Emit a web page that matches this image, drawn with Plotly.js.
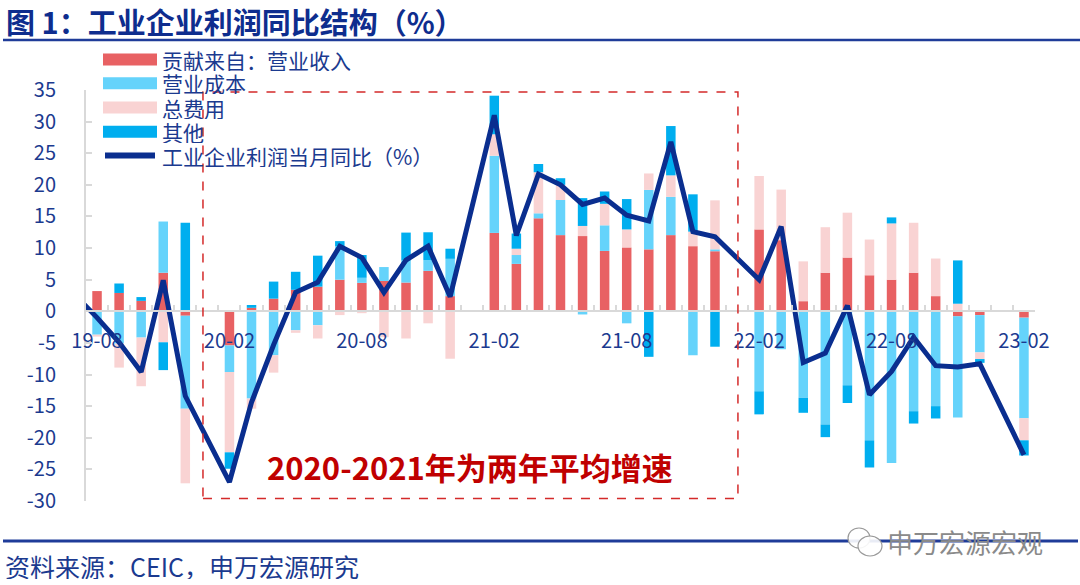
<!DOCTYPE html>
<html><head><meta charset="utf-8">
<script src="https://cdn.plot.ly/plotly-3.0.1.min.js"></script>
<style>html,body{margin:0;padding:0;background:#fff;}#chart{width:1080px;height:585px;}</style>
</head><body><div id="chart"></div>
<script>
// ---- data ----
const months = ['19-07','19-08','19-09','19-10','19-11','19-12',
  '20-01','20-02','20-03','20-04','20-05','20-06','20-07','20-08','20-09','20-10','20-11','20-12',
  '21-01','21-02','21-03','21-04','21-05','21-06','21-07','21-08','21-09','21-10','21-11','21-12',
  '22-01','22-02','22-03','22-04','22-05','22-06','22-07','22-08','22-09','22-10','22-11','22-12',
  '23-01','23-02'];
const tickLabels = ['19-08','20-02','20-08','21-02','21-08','22-02','22-08','23-02'];
const yTicks = [-30,-25,-20,-15,-10,-5,0,5,10,15,20,25,30,35];
const seriesNames = ['贡献来自：营业收入','营业成本','总费用','其他','工业企业利润当月同比（%）'];

const revenue = [null,3.2,2.9,1.65,6.1,-0.7,
  null,-5.4,0.55,2.0,3.4,3.9,5.0,4.5,4.8,4.55,6.4,2.4,
  null,12.4,7.5,14.7,12.05,11.9,9.55,10.1,9.8,12.05,10.3,9.5,
  null,12.95,11.25,1.6,6.1,8.5,5.7,5.0,6.1,2.4,-0.8,-0.6,
  null,-1.0];
const cost = [null,-3.7,-5.1,-4.15,8.1,-14.7,
  null,-4.2,-13.8,-6.95,-3.0,-2.2,5.3,0.8,2.2,3.5,1.7,5.9,
  null,12.2,1.4,0.8,5.55,-0.5,4.05,-1.9,9.4,6.05,-6.95,0.3,
  null,-12.65,-6.0,-13.65,-17.9,-11.7,-20.4,-24.0,-15.8,-15.0,-16.0,-5.9,
  null,-15.9];
const expenses = [null,-0.3,-3.8,-7.7,-4.9,-11.8,
  null,-12.7,-1.6,-2.75,-0.4,-2.1,-0.6,-0.3,-4.1,-4.3,-1.9,-7.5,
  null,3.4,1.0,6.5,2.4,1.6,3.4,2.85,2.6,3.4,2.3,7.75,
  null,8.45,8.0,6.3,7.2,7.1,5.65,8.9,7.9,5.95,1.2,-1.05,
  null,-3.5];
const other = [null,0,1.5,0.6,-4.4,14.0,
  null,-2.6,0.45,2.7,2.85,4.9,0.8,3.6,0,4.4,4.4,1.6,
  null,6.1,2.4,1.3,1.05,4.4,1.95,4.8,-7.2,7.8,5.9,-5.6,
  null,-3.65,0,-2.4,-2.0,-2.8,-4.3,0.95,-1.95,-1.95,6.85,-0.6,
  null,-2.4];
const profit = [2.6,-1.0,-4.9,-9.6,4.9,-13.4,
  null,-27.0,-14.4,-5.3,3.0,4.6,10.3,8.5,3.0,8.1,10.3,2.3,
  null,31.0,12.0,21.7,20.0,16.9,17.9,15.2,14.3,26.8,12.6,11.8,
  null,5.0,13.4,-8.1,-6.6,0.9,-13.2,-9.5,-4.1,-8.6,-8.8,-8.3,
  null,-22.7];

// ---- styling ----
const colors = ['#E86163','#65D3FB','#F9D3D3','#00AEEF','#0A2E8F'];
const textBlue = '#1B3A8F';
const FONT = '"Noto Sans CJK SC","Noto Sans",sans-serif';
const W = 1080, H = 585, M = {l:86, r:45, t:90, b:84};
const px = p => (p - M.l) / (W - M.l - M.r);
const py = p => 1 - (p - M.t) / (H - M.t - M.b);

const xIdx = months.map((m, i) => i);
const barSeries = [revenue, cost, expenses, other];
const traces = barSeries.map((vals, k) => ({
  type: 'bar', x: xIdx, y: vals, name: seriesNames[k], width: 0.43,
  marker: {color: colors[k], line: {width: 0}}, showlegend: false, hoverinfo: 'x+y+name'
}));
traces.push({
  type: 'scatter', mode: 'lines', x: xIdx, y: profit, name: seriesNames[4],
  connectgaps: true, line: {color: colors[4], width: 5}, showlegend: false
});

const boundaries = [];
for (let i = 1; i < months.length - 1; i++) boundaries.push(i + 0.5);

const shapes = [
  // title underline and footer line
  {type:'line', xref:'paper', yref:'paper', x0:px(3), x1:px(1080), y0:py(40), y1:py(40), line:{color:'#1F3C99', width:2.5}},
  {type:'line', xref:'paper', yref:'paper', x0:px(3), x1:px(1078), y0:py(541), y1:py(541), line:{color:'#1F3C99', width:3}},
  // dashed highlight box
  {type:'rect', xref:'x', yref:'y', x0:5.8, x1:30.04, y0:-29.6, y1:34.7, line:{color:'#D42A2A', width:1.5, dash:'dash'}},
  // wechat icon (watermark)
  {type:'circle', xref:'paper', yref:'paper', x0:px(848), x1:px(870), y0:py(548), y1:py(528), line:{color:'#9a9a9a', width:1.2}, fillcolor:'rgba(255,255,255,0.9)'},
  {type:'circle', xref:'paper', yref:'paper', x0:px(858), x1:px(882), y0:py(556), y1:py(536), line:{color:'#9a9a9a', width:1.2}, fillcolor:'rgba(255,255,255,0.9)'}
];
const legendRows = [59.5, 83.3, 107.5, 131.7, 155.5];
const annotations = [];
// title as annotation with a compact box
annotations.push({xref:'paper', yref:'paper', x:px(5), y:py(21), xanchor:'left', yanchor:'middle', showarrow:false,
  borderpad: 0, height: 32, valign: 'middle', text:'<b>图 1：工业企业利润同比结构（%）</b>',
  font:{family:FONT, size:29, color:'#0E2D8E'}});
for (let k = 0; k < 5; k++) {
  const yc = legendRows[k];
  if (k < 4) {
    shapes.push({type:'rect', xref:'paper', yref:'paper', x0:px(103), x1:px(157), y0:py(yc+6), y1:py(yc-6), line:{width:0}, fillcolor:colors[k]});
  } else {
    shapes.push({type:'line', xref:'paper', yref:'paper', x0:px(105), x1:px(155), y0:py(yc), y1:py(yc), line:{color:colors[k], width:6}});
  }
  annotations.push({xref:'paper', yref:'paper', x:px(161), y:py(yc), xanchor:'left', yanchor:'middle', showarrow:false,
    text: seriesNames[k], borderpad: 0, height: 22, valign: 'middle', font:{family:FONT, size:21, color:textBlue}});
}
annotations.push({xref:'x', yref:'y', x:17.9, y:-24.5, showarrow:false, text:'<b>2020-2021年为两年平均增速</b>',
  font:{family:FONT, size:31, color:'#C00000'}});
annotations.push({xref:'paper', yref:'paper', x:px(4), y:py(566), xanchor:'left', yanchor:'middle', showarrow:false,
  borderpad: 0, height: 26, valign: 'middle', text:'资料来源：CEIC，申万宏源研究', font:{family:FONT, size:25, color:textBlue}});
annotations.push({xref:'paper', yref:'paper', x:px(885), y:py(541), xanchor:'left', yanchor:'middle', showarrow:false,
  text:'申万宏源宏观', font:{family:FONT, size:26, color:'#8a8a8a'}, bgcolor:'rgba(255,255,255,0)'});

const layout = {
  width: W, height: H, margin: M, paper_bgcolor: '#fff', plot_bgcolor: '#fff',
  barmode: 'relative', showlegend: false, font: {family: FONT, color: textBlue},
  xaxis: {type: 'linear', range: [0.5, months.length - 0.5], tickmode: 'array',
    tickvals: tickLabels.map(t => months.indexOf(t)), ticktext: tickLabels,
    showgrid: false, zeroline: false, showline: true, linecolor: '#D9D9D9', linewidth: 2,
    anchor: 'free', position: 30/65, ticks: '', ticklabelstandoff: 12, layer: 'above traces',
    tickfont: {family: FONT, size: 20, color: textBlue},
    minor: {tickmode: 'array', tickvals: boundaries, ticks: 'inside', ticklen: 5, tickcolor: '#D9D9D9', tickwidth: 2}},
  yaxis: {range: [-30, 35], tickmode: 'array', tickvals: yTicks, ticktext: yTicks.map(String),
    showgrid: false, zeroline: false, showline: true, linecolor: '#D9D9D9', linewidth: 2,
    ticks: 'inside', ticklen: 6, tickwidth: 2, tickcolor: '#D9D9D9', ticklabelstandoff: 24,
    tickfont: {family: FONT, size: 20, color: textBlue}},
  shapes: shapes, annotations: annotations
};
Plotly.newPlot('chart', traces, layout, {displayModeBar: false, staticPlot: true});
</script>
</body></html>
